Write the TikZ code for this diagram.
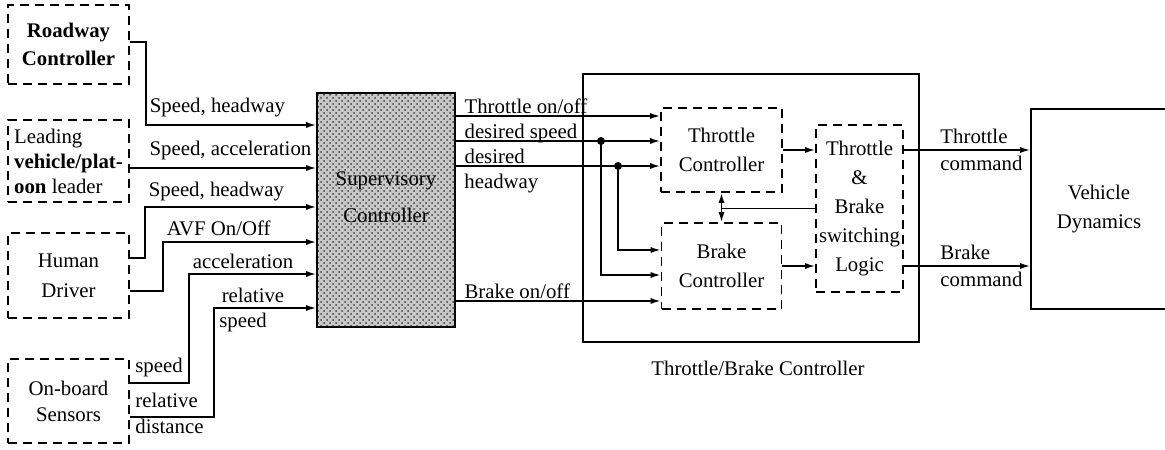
\documentclass[tikz,border=0pt]{standalone}
\usepackage{fontspec}
\setmainfont{Liberation Serif}
\newfontfamily\figfont{Liberation Serif}
\usetikzlibrary{arrows.meta, calc, patterns}

\begin{document}
\begin{tikzpicture}[
  x=0.5pt, y=-0.5pt,
  every node/.style={font=\figfont\fontsize{10.4}{14.5}\selectfont},
  >=Latex,
  dbox/.style={draw, line width=0.8pt, dash pattern=on 4.5pt off 3pt,
    align=center, inner sep=0pt},
  sbox/.style={draw, line width=0.8pt, align=center, inner sep=0pt},
  arr/.style ={-{Latex[length=5pt, width=3pt]}, line width=0.8pt},
  wire/.style={line width=0.8pt},
  lbl/.style={inner sep=1.5pt, align=left},
  dot/.style={circle, fill, inner sep=0pt, minimum size=4pt},
]
\useasboundingbox (0,0) rectangle (1165,449);

%% LEFT COLUMN — sources
\node[dbox, minimum width=60.5pt, minimum height=39.5pt] (road) at (68.5,44.5)
  {\textbf{Roadway}\\[-0.5pt]\textbf{Controller}};
\node[dbox, minimum width=60.5pt, minimum height=41pt, align=left] (lead) at (68.5,161)
  {Leading\\[-2pt]\textbf{vehicle/plat-}\\[-2pt]\textbf{oon} leader};
\node[dbox, minimum width=60.5pt, minimum height=42.5pt] (human) at (68.5,275.5)
  {Human\\[0.5pt]Driver};
\node[dbox, minimum width=60.5pt, minimum height=42pt] (sens) at (68.5,401)
  {On-board\\[-1.5pt]Sensors};

%% MIDDLE — Supervisory Controller (stippled)
\node[sbox, preaction={fill=black!22}, pattern=crosshatch dots,
  pattern color=black!75, minimum width=69pt, minimum height=117pt] (sup) at (386,210) {};
\node[align=center] (suptxt) at (386,197) {Supervisory\\[4pt]Controller};

%% signal levels into / out of the supervisor
\coordinate (inA) at (0,125);
\coordinate (inB) at (0,168);
\coordinate (inC) at (0,207);
\coordinate (inD) at (0,242);
\coordinate (inE) at (0,274);
\coordinate (inF) at (0,308);
\coordinate (ton) at (0,116);
\coordinate (dsp) at (0,141);
\coordinate (dhw) at (0,166);
\coordinate (bon) at (0,301);

%% inputs
\draw[arr] (road.east |- 0,42) -| (146,125)
  -- node[lbl, pos=0, anchor=south west, yshift=2pt] {Speed, headway} (sup.west |- inA);
\draw[arr] (lead.east |- inB)
  -- node[lbl, pos=0, anchor=south west, xshift=8pt, yshift=2pt] {Speed, acceleration} (sup.west |- inB);
\draw[arr] (human.east |- 0,258) -| (145,207)
  -- node[lbl, pos=0, anchor=south west, yshift=1pt] {Speed, headway} (sup.west |- inC);
\draw[arr] (human.east |- 0,291) -| (163,242)
  -- node[lbl, pos=0, anchor=south west, yshift=1pt] {AVF On/Off} (sup.west |- inD);
\draw[arr] (sens.east |- 0,383) -| (189,274)
  -- node[lbl, pos=0, anchor=south west, yshift=1pt] {acceleration} (sup.west |- inE);
\draw[arr] (sens.east |- 0,417) -| (214,308)
  -- node[lbl, pos=0, anchor=south west, xshift=2pt, yshift=1pt] {relative} (sup.west |- inF);
\node[lbl, anchor=north west] (relspd) at (216,310) {speed};
\node[lbl, anchor=south west] (senspd) at (132,380) {speed};
\node[lbl, anchor=base west] (senrel) at (132,407) {relative};
\node[lbl, anchor=base west] (sendst) at (132,433) {distance};

%% RIGHT — Throttle/Brake Controller
\node[sbox, minimum width=168pt, minimum height=134pt] (tbc) at (751,208) {};
\node (tbclbl) at (758,368) {Throttle/Brake Controller};
\node[dbox, minimum width=60.5pt, minimum height=42pt] (thr) at (721.5,150)
  {Throttle\\Controller};
\node[dbox, minimum width=60pt, minimum height=43pt] (brk) at (721.5,266)
  {Brake\\Controller};
\node[dbox, minimum width=43.5pt, minimum height=83.5pt] (sw) at (859.5,208.5)
  {Throttle\\\&\\Brake\\switching\\Logic};
\node[sbox, minimum width=68pt, minimum height=100pt] (veh) at (1099,209)
  {Vehicle\\Dynamics};

%% supervisor outputs
\draw[arr] (sup.east |- ton)
  -- node[lbl, pos=0, anchor=base west, inner sep=0pt, xshift=4pt, yshift=1.2pt] {Throttle on/off} (thr.west |- ton);
\draw[arr] (sup.east |- dsp)
  -- node[lbl, pos=0, anchor=base west, inner sep=0pt, xshift=4pt, yshift=1.2pt] {desired speed} (thr.west |- dsp);
\draw[arr] (sup.east |- dhw)
  -- node[lbl, pos=0, anchor=base west, inner sep=0pt, xshift=4pt, yshift=1.2pt] {desired} (thr.west |- dhw);
\node[lbl, anchor=base west, inner sep=0pt] (hdw) at (464,188) {headway};
\draw[arr] (sup.east |- bon)
  -- node[lbl, pos=0, anchor=base west, inner sep=0pt, xshift=4pt, yshift=1.2pt] {Brake on/off} (brk.west |- bon);

%% branches to the brake controller
\node[dot] (dotA) at (601,141) {};
\node[dot] (dotB) at (618,166) {};
\draw[arr] (dotA.center) |- (brk.west |- 0,275);
\draw[arr] (dotB.center) |- (brk.west |- 0,250);

%% inner links
\draw[arr] (thr.east) -- (sw.west |- thr.east);
\draw[arr] (brk.east) -- (sw.west |- brk.east);
\draw[wire] (sw.west) -- (thr.south |- sw.west);
\draw[{Latex[length=5pt, width=3pt]}-{Latex[length=5pt, width=3pt]}, line width=0.8pt]
  (thr.south) -- (brk.north);

%% commands
\draw[arr] (sw.east |- thr.east)
  -- node[lbl, pos=0.26, anchor=south west, yshift=1pt] {Throttle}
     node[lbl, pos=0.26, anchor=north west, yshift=-1pt] {command} (veh.west |- thr.east);
\draw[arr] (sw.east |- brk.east)
  -- node[lbl, pos=0.26, anchor=south west, yshift=1pt] {Brake}
     node[lbl, pos=0.26, anchor=north west, yshift=-1pt] {command} (veh.west |- brk.east);

\end{tikzpicture}
\end{document}
